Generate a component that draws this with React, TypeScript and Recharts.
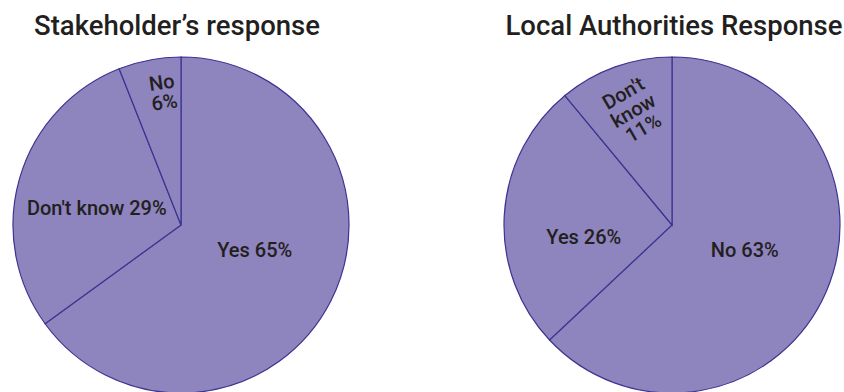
import { PieChart, Pie, Cell } from "recharts";

const stakeholderNames = ["Yes", "Don't know", "No"];
const stakeholderValues = [65, 29, 6];
const authorityNames = ["No", "Yes", "Don't know"];
const authorityValues = [63, 26, 11];

const stakeholderData = stakeholderNames.map((name, i) => ({ name, value: stakeholderValues[i] }));
const authorityData = authorityNames.map((name, i) => ({ name, value: authorityValues[i] }));

const FILL = "#8e84be";
const STROKE = "#3b3492";
const TEXT = "#231f20";
const FONT = "Roboto, 'Liberation Sans', Arial, sans-serif";
const RAD = Math.PI / 180;

// label placement per slice: angle (deg), distance from centre (px), rotation, wrap words
type LabelPos = { angle: number; r: number; rotate: number; wrap: boolean };
const leftLabels: LabelPos[] = [
  { angle: -19, r: 78, rotate: 0, wrap: false },
  { angle: 168.3, r: 86, rotate: 0, wrap: false },
  { angle: 97.7, r: 134, rotate: -8, wrap: true },
];
const rightLabels: LabelPos[] = [
  { angle: -18.9, r: 77, rotate: 0, wrap: false },
  { angle: 187.8, r: 89, rotate: 0, wrap: false },
  { angle: 108.7, r: 121, rotate: -30, wrap: true },
];

const makeLabel = (layout: LabelPos[]) => (props: any) => {
  const { cx, cy, index, name, value } = props;
  const pos = layout[index];
  const x = cx + pos.r * Math.cos(-pos.angle * RAD);
  const y = cy + pos.r * Math.sin(-pos.angle * RAD);
  const text = `${name} ${value}%`;
  const lines = pos.wrap ? text.split(" ") : [text];
  const lh = 20;
  const y0 = -((lines.length - 1) * lh) / 2;
  return (
    <g transform={`translate(${x},${y}) rotate(${pos.rotate})`}>
      <text textAnchor="middle" dominantBaseline="central" fill={TEXT} fontSize={20} fontWeight={500} fontFamily={FONT}>
        {lines.map((l, i) => (
          <tspan key={i} x={0} y={y0 + i * lh}>
            {l}
          </tspan>
        ))}
      </text>
    </g>
  );
};

const titleStyle = (left: number): React.CSSProperties => ({
  position: "absolute",
  top: 9,
  left,
  width: 360,
  textAlign: "center",
  fontFamily: FONT,
  fontSize: 27.5,
  fontWeight: 500,
  color: TEXT,
  whiteSpace: "nowrap",
});

const App = () => {
  return (
    <div style={{ position: "absolute", left: 0, top: 0, width: 844, height: 392, overflow: "hidden", background: "#fff" }}>
      <div style={titleStyle(177 - 180)}>Stakeholder’s response</div>
      <div style={titleStyle(674 - 180)}>Local Authorities Response</div>
      <PieChart width={844} height={395} margin={{ top: 0, right: 0, bottom: 0, left: 0 }} style={{ position: "absolute", left: 0, top: 0 }}>
        <Pie
          data={stakeholderData}
          dataKey="value"
          cx={181}
          cy={225}
          outerRadius={168}
          startAngle={90}
          endAngle={-270}
          stroke={STROKE}
          strokeWidth={1.2}
          label={makeLabel(leftLabels)}
          labelLine={false}
          isAnimationActive={false}
        >
          {stakeholderData.map((d, i) => (
            <Cell key={`s-${i}`} fill={FILL} />
          ))}
        </Pie>
        <Pie
          data={authorityData}
          dataKey="value"
          cx={672}
          cy={225}
          outerRadius={168}
          startAngle={90}
          endAngle={-270}
          stroke={STROKE}
          strokeWidth={1.2}
          label={makeLabel(rightLabels)}
          labelLine={false}
          isAnimationActive={false}
        >
          {authorityData.map((d, i) => (
            <Cell key={`a-${i}`} fill={FILL} />
          ))}
        </Pie>
      </PieChart>
    </div>
  );
};

export default App;
